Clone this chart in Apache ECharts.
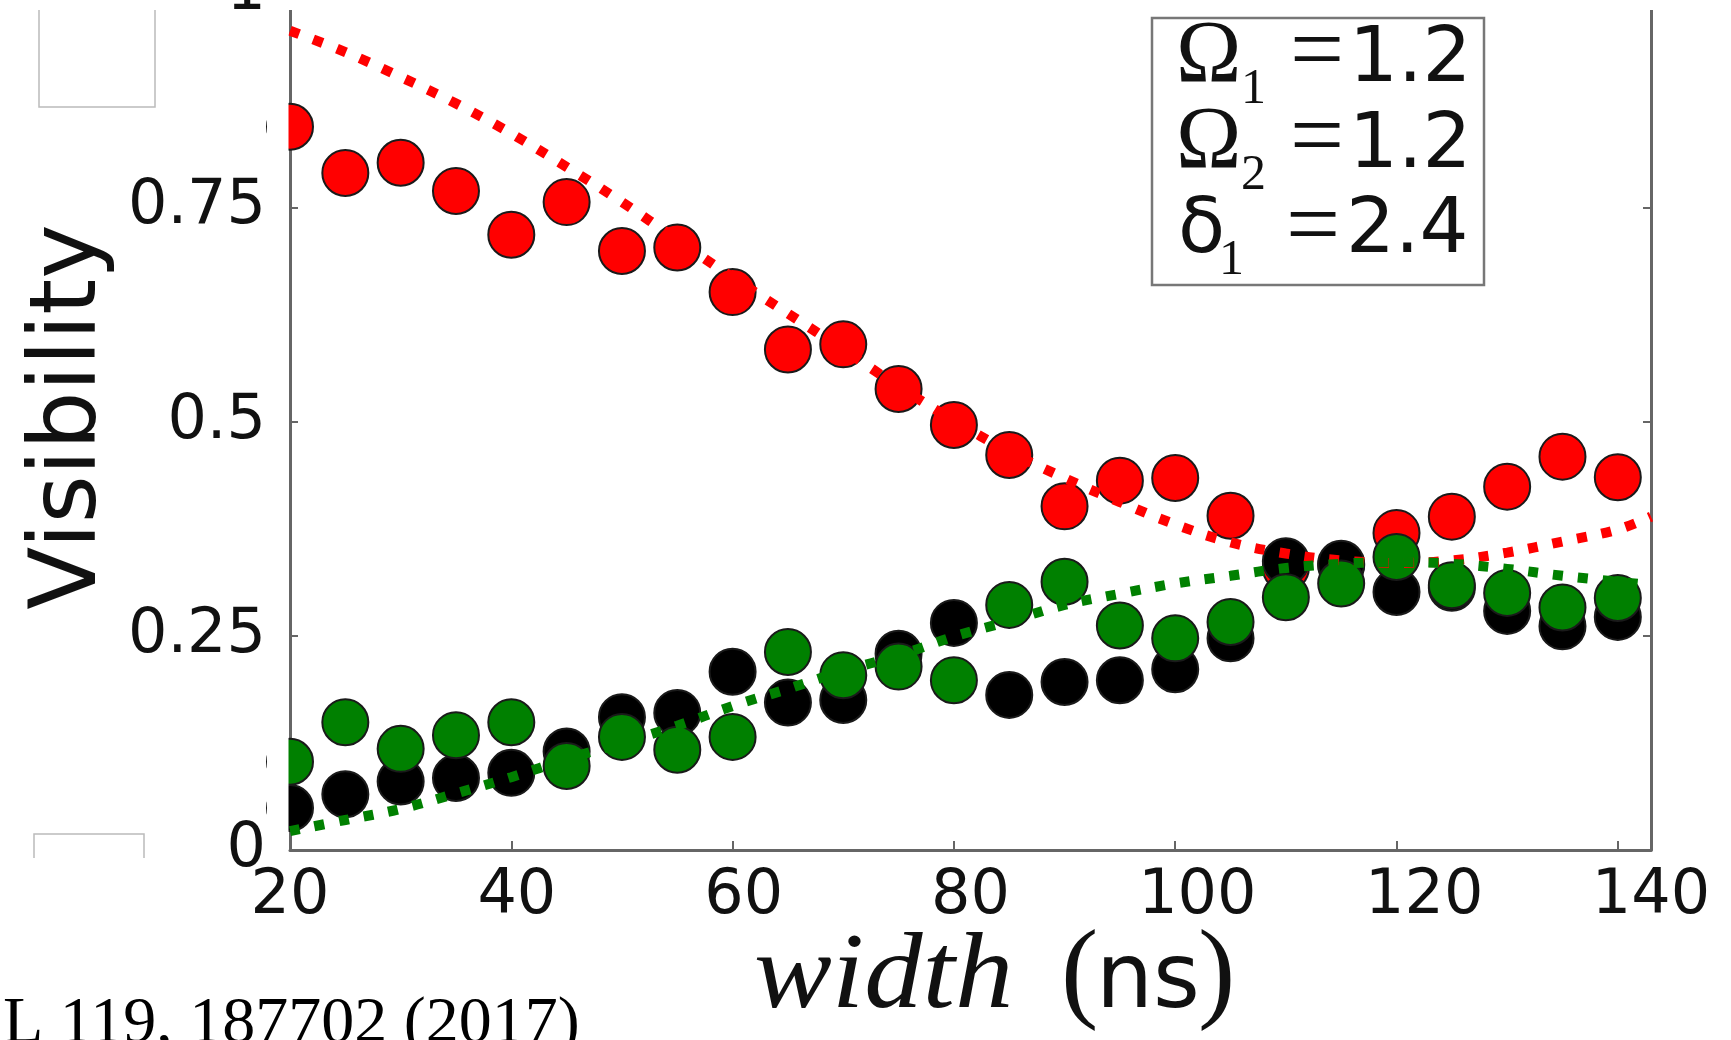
<!DOCTYPE html>
<html><head><meta charset="utf-8">
<script src="https://cdn.jsdelivr.net/npm/echarts@6/dist/echarts.min.js"></script>
<style>html,body{margin:0;padding:0;background:#fff}#c{width:1731px;height:1040px}</style>
</head><body><div id="c"></div>
<script>
// measured pulse widths (ns)
const widths = [20,25,30,35,40,45,50,55,60,65,70,75,80,85,90,95,100,105,110,115,120,125,130,135,140];
// visibility data
const redVis   = [0.844,0.790,0.802,0.769,0.718,0.756,0.699,0.703,0.651,0.584,0.590,0.538,0.496,0.461,0.401,0.431,0.434,0.390,0.329,0.332,0.370,0.389,0.424,0.459,0.435];
const blackVis = [0.049,0.065,0.080,0.084,0.090,0.115,0.155,0.160,0.208,0.172,0.175,0.229,0.265,0.181,0.196,0.198,0.211,0.247,0.337,0.334,0.301,0.306,0.279,0.261,0.272];
const greenVis = [0.103,0.149,0.118,0.134,0.149,0.098,0.132,0.117,0.132,0.231,0.204,0.214,0.198,0.286,0.313,0.262,0.247,0.266,0.295,0.311,0.342,0.309,0.300,0.283,0.294];
// theory curves (dotted)
const fitWidths = [20,25,30,35,40,45,50,55,60,65,70,75,80,85,90,95,100,105,110,115,120,125,130,135,140,143];
const redFit   = [0.956,0.931,0.902,0.871,0.836,0.797,0.756,0.712,0.668,0.626,0.584,0.541,0.501,0.465,0.434,0.406,0.380,0.359,0.346,0.338,0.335,0.338,0.347,0.360,0.374,0.389];
const greenFit = [0.022,0.035,0.048,0.066,0.085,0.106,0.125,0.145,0.168,0.188,0.209,0.227,0.249,0.267,0.286,0.299,0.311,0.320,0.329,0.334,0.336,0.334,0.328,0.320,0.313,0.309];
// tick labels
const xTickLabels = ['20','40','60','80','100','120','140'];
const yTickLabels = ['0','0.25','0.5','0.75','1'];
// parameter box
const paramRows = [['Ω','1','1.2'],['Ω','2','1.2'],['δ','1','2.4']];

const chart = echarts.init(document.getElementById('c'), null, {renderer:'canvas'});
const AX = '#666';
const sans = 'DejaVu Sans';
const serif = 'Liberation Serif';

function pts(xs, ys){ return xs.map((x,i)=>[x, ys[i]]); }
function scatter(name, color, ys, z){
  return {type:'scatter', name, data: pts(widths, ys), symbol:'circle', symbolSize:46, z,
    itemStyle:{color, borderColor:'#1a1a1a', borderWidth:2, opacity:1}, clip:true, silent:true};
}
function fit(name, color, ys){
  return {type:'line', name, data: pts(fitWidths, ys), showSymbol:false, symbol:'none', smooth:0.4, z:6, clip:true, silent:true,
    lineStyle:{color, width:10, type:[10,15], cap:'butt'}};
}

const rowBase = [88, 174, 259];
const legendEls = [{type:'rect', z:50, shape:{x:1152,y:18,width:332,height:267}, style:{fill:'#fff', stroke:'#777', lineWidth:2.5}}];
paramRows.forEach((r,i)=>{
  const b = rowBase[i];
  const isDelta = r[0]==='δ';
  legendEls.push({type:'text', z:51, x: isDelta?1178:1176, y: isDelta ? b-0.346*77 : b-0.338*88,
    style:{text:r[0], fontFamily: isDelta?sans:serif, fontSize: isDelta?77:88, fill:'#111', align:'left', verticalAlign:'middle'}});
  legendEls.push({type:'text', z:51, x: isDelta?1219:1241, y: b+19-0.338*50,
    style:{text:r[1], fontFamily:serif, fontSize:50, fill:'#111', align:'left', verticalAlign:'middle'}});
  legendEls.push({type:'text', z:51, x: isDelta?1286:1290, y: (isDelta?b+4:b)-0.338*96,
    style:{text:'=', fontFamily:serif, fontSize:96, fill:'#111', align:'left', verticalAlign:'middle'}});
  legendEls.push({type:'text', z:51, x: isDelta?1346:1349, y: b-0.346*77,
    style:{text:r[2], fontFamily:sans, fontSize:77, fill:'#111', align:'left', verticalAlign:'middle'}});
});

const option = {
  animation:false,
  backgroundColor:'#fff',
  grid:{left:290, top:-7, width:1361, height:857, containLabel:false, outerBoundsMode:'none'},
  xAxis:[
    {type:'value', min:20, max:143, interval:20, position:'bottom',
     axisLine:{show:true, onZero:false, lineStyle:{color:AX, width:3}},
     axisTick:{show:true, inside:true, length:9, lineStyle:{color:AX, width:2}},
     axisLabel:{show:false}, splitLine:{show:false}},
    {type:'value', min:20, max:140, interval:20, position:'bottom',
     axisLine:{show:false}, axisTick:{show:false}, splitLine:{show:false},
     axisLabel:{show:true, margin:16, fontFamily:sans, fontSize:62, color:'#111',
       formatter:(v)=>xTickLabels[Math.round((v-20)/20)] ?? ''}}
  ],
  yAxis:[
    {type:'value', min:0, max:1, interval:0.25, position:'left',
     axisLine:{show:true, onZero:false, lineStyle:{color:AX, width:3}},
     axisTick:{show:true, inside:true, length:8, lineStyle:{color:AX, width:2}},
     splitLine:{show:false},
     axisLabel:{show:true, margin:24, fontFamily:sans, fontSize:62, color:'#111',
       formatter:(v)=>yTickLabels[Math.round(v/0.25)] ?? ''}},
    {type:'value', min:0, max:1, interval:0.25, position:'right',
     axisLine:{show:true, onZero:false, lineStyle:{color:AX, width:3}},
     axisTick:{show:true, inside:true, length:8, lineStyle:{color:AX, width:2}},
     splitLine:{show:false}, axisLabel:{show:false}}
  ],
  series:[
    scatter('red', '#ff0000', redVis, 2),
    scatter('black', '#000000', blackVis, 3),
    scatter('green', '#008000', greenVis, 4),
    fit('red fit', '#ff0000', redFit),
    fit('green fit', '#008000', greenFit)
  ],
  graphic:{elements:[
    // white band at the top edge of the cropped figure
    {type:'rect', z:100, shape:{x:275,y:0,width:1456,height:10}, style:{fill:'#fff'}},
    // markers are cut at the left spine
    {type:'rect', z:100, shape:{x:267,y:10,width:21.5,height:838}, style:{fill:'#fff'}},
    // faint boxes at left
    {type:'polyline', z:100, shape:{points:[[39,10],[39,107],[155,107],[155,10]]}, style:{stroke:'#bbb', lineWidth:1.5, fill:null}},
    {type:'polyline', z:100, shape:{points:[[34,858],[34,834],[144,834],[144,858]]}, style:{stroke:'#bbb', lineWidth:1.5, fill:null}},
    // y axis title
    {type:'text', z:60, x:71, y:417, rotation:Math.PI/2,
     style:{text:'Visibility', fontFamily:sans, fontSize:92, fill:'#111', align:'center', verticalAlign:'middle'}},
    // x axis title
    {type:'text', z:60, x:754, y:1015-0.338*108, scaleX:1.08, style:{text:'width', fontFamily:serif, fontStyle:'italic', fontSize:108, fill:'#111', align:'left', verticalAlign:'middle'}},
    {type:'text', z:60, x:1061, y:1015-0.338*112, style:{text:'(', fontFamily:serif, fontSize:112, fill:'#111', align:'left', verticalAlign:'middle'}},
    {type:'text', z:60, x:1096, y:1015-0.346*90, style:{text:'ns', fontFamily:sans, fontSize:90, fill:'#111', align:'left', verticalAlign:'middle'}},
    {type:'text', z:60, x:1198, y:1015-0.338*112, style:{text:')', fontFamily:serif, fontSize:112, fill:'#111', align:'left', verticalAlign:'middle'}},
    // citation fragment at bottom-left
    {type:'text', z:60, x:3, y:1047-0.338*66, style:{text:'L 119, 187702 (2017)', fontFamily:serif, fontSize:66, fill:'#000', align:'left', verticalAlign:'middle'}}
  ].concat(legendEls)}
};
chart.setOption(option);
</script>
</body></html>
